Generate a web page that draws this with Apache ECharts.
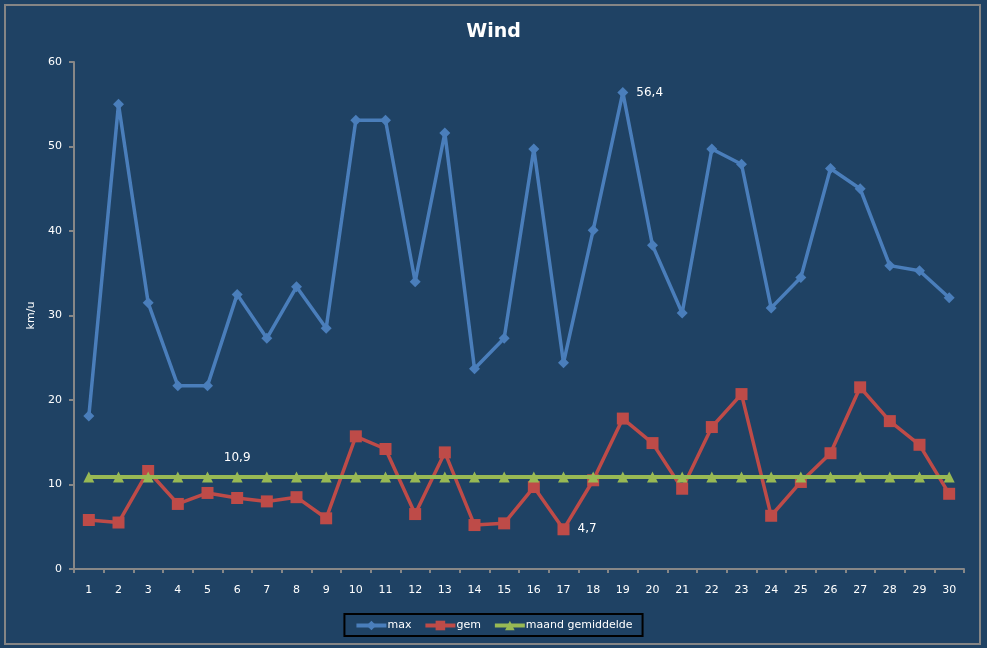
<!DOCTYPE html>
<html>
<head>
<meta charset="utf-8">
<script src="https://cdn.jsdelivr.net/npm/echarts@6/dist/echarts.min.js"></script>
<style>
html,body{margin:0;padding:0;background:#fff;}
#chart{width:987px;height:648px;}
</style>
</head>
<body>
<div id="chart"></div>
<script>
// dagen van de maand
var days = [];
for (var d = 1; d <= 30; d++) days.push(String(d));

var maxWind = [18.1, 55.0, 31.5, 21.7, 21.7, 32.5, 27.3, 33.4, 28.5, 53.1,
	53.1, 34.0, 51.6, 23.7, 27.3, 49.7, 24.4, 40.1, 56.4, 38.3,
	30.3, 49.7, 47.9, 30.9, 34.5, 47.4, 45.0, 35.9, 35.3, 32.1];
var gemWind = [5.8, 5.5, 11.6, 7.7, 9.0, 8.4, 8.0, 8.5, 6.0, 15.7,
	14.2, 6.5, 13.8, 5.2, 5.4, 9.7, 4.7, 10.5, 17.8, 14.9,
	9.5, 16.8, 20.7, 6.3, 10.3, 13.7, 21.5, 17.5, 14.7, 8.9];
var maandGem = [10.9, 10.9, 10.9, 10.9, 10.9, 10.9, 10.9, 10.9, 10.9, 10.9,
	10.9, 10.9, 10.9, 10.9, 10.9, 10.9, 10.9, 10.9, 10.9, 10.9,
	10.9, 10.9, 10.9, 10.9, 10.9, 10.9, 10.9, 10.9, 10.9, 10.9];
var yTicks = [0, 10, 20, 30, 40, 50, 60];

// welk punt een label krijgt
function withLabel(values, idx, pos) {
	return values.map(function (v, i) {
		if (i !== idx) return v;
		return {
			value: v,
			label: {
				show: true,
				position: pos,
				distance: 8,
				color: '#fff',
				fontSize: 12,
				fontFamily: 'DejaVu Sans',
				formatter: function (p) { return String(p.value).replace('.', ','); }
			}
		};
	});
}

var axisColor = '#878787';

var option = {
	backgroundColor: '#1F4264',
	textStyle: { fontFamily: 'DejaVu Sans' },
	title: {
		text: 'Wind',
		left: 'center',
		top: 18,
		textStyle: { color: '#fff', fontSize: 19, fontWeight: 'bold', fontFamily: 'DejaVu Sans' }
	},
	grid: { left: 74, right: 23, top: 62, bottom: 79 },
	legend: {
		bottom: 12,
		left: 'center',
		itemWidth: 30,
		itemHeight: 12,
		itemGap: 12,
		padding: [6, 10, 5, 10],
		borderColor: '#000',
		borderWidth: 2,
		lineStyle: { width: 4 },
		textStyle: { color: '#fff', fontSize: 11, padding: [0, 0, 0, -4] },
		data: ['max', 'gem', 'maand gemiddelde']
	},
	xAxis: {
		type: 'category',
		data: days,
		boundaryGap: true,
		axisLine: { lineStyle: { color: axisColor, width: 2 } },
		axisTick: { show: true, length: 4, lineStyle: { color: axisColor, width: 2 } },
		axisLabel: { color: '#fff', fontSize: 11, margin: 16, interval: 0 },
		splitLine: { show: false }
	},
	yAxis: {
		type: 'value',
		min: yTicks[0],
		max: yTicks[yTicks.length - 1],
		interval: 10,
		name: 'km/u',
		nameLocation: 'middle',
		nameGap: 36,
		nameTextStyle: { color: '#fff', fontSize: 11 },
		axisLine: { show: true, lineStyle: { color: axisColor, width: 2 } },
		axisTick: { show: true, length: 5, lineStyle: { color: axisColor, width: 2 } },
		axisLabel: { color: '#fff', fontSize: 11, margin: 12 },
		splitLine: { show: false }
	},
	series: [{
		name: 'max',
		type: 'line',
		data: withLabel(maxWind, 18, 'right'),
		symbol: 'diamond',
		symbolSize: 11,
		showAllSymbol: true,
		itemStyle: { color: '#4A7EBB' },
		lineStyle: { color: '#4A7EBB', width: 3.5 },
		z: 3
	}, {
		name: 'gem',
		type: 'line',
		data: withLabel(gemWind, 16, 'right'),
		symbol: 'rect',
		symbolSize: 12,
		showAllSymbol: true,
		itemStyle: { color: '#BE4B48' },
		lineStyle: { color: '#BE4B48', width: 3.5 },
		z: 4
	}, {
		name: 'maand gemiddelde',
		type: 'line',
		data: withLabel(maandGem, 5, 'top'),
		symbol: 'triangle',
		symbolSize: 11,
		showAllSymbol: true,
		itemStyle: { color: '#98B954' },
		lineStyle: { color: '#98B954', width: 4 },
		z: 5
	}],
	graphic: [{
		type: 'rect',
		shape: { x: 5, y: 5, width: 975, height: 639 },
		style: { fill: 'none', stroke: '#858585', lineWidth: 2 },
		silent: true
	}]
};

var myChart = echarts.init(document.getElementById('chart'));
myChart.setOption(option);
</script>
</body>
</html>
